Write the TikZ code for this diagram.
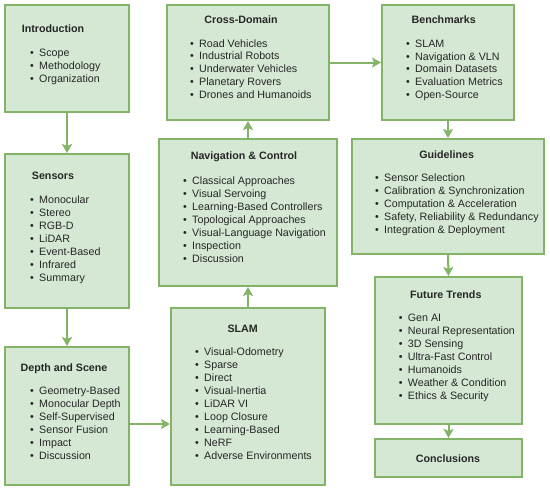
\documentclass[tikz,border=0pt]{standalone}
\usepackage{fontspec}
\setmainfont{Liberation Sans}
\usetikzlibrary{arrows.meta}
\definecolor{boxfill}{HTML}{D5E8D4}
\definecolor{boxline}{HTML}{82B366}
\tikzset{
  box/.style={draw=boxline, fill=boxfill, line width=2pt, inner sep=0pt},
  ttl/.style={font=\fontsize{10.7pt}{12.9pt}\selectfont\bfseries, inner sep=0pt, anchor=base, text=black!85},
  item/.style={font=\fontsize{10.7pt}{12.9pt}\selectfont, inner sep=0pt, anchor=base west, text=black!85},
  conn/.style={draw=boxline, line width=2pt, -{Stealth[length=9pt,width=10pt,inset=2pt]}},
}
\newcommand\mkbox[5]{% name, x1, y1, x2, y2
  \node[box, minimum width={#4-#2}, minimum height={#5-#3}] (#1) at ({(#2+#4)/2},{(#3+#5)/2}) {};}
\newcommand\blist[5]{% name, x text, first center y, spacing, items
  \foreach \t [count=\i from 0] in {#5}
    \node[item] (#1-\i) at (#2,{#3+3.8+\i*#4}) {\makebox[0pt][r]{\textbullet\hspace{5.3pt}}\t};}
\newcommand\btitle[4]{% name, cx, cy, text
  \node[ttl] (#1) at (#2,{#3+3.8}) {#4};}
\begin{document}
\begin{tikzpicture}[x=1pt,y=-1pt]
\useasboundingbox (0,0) rectangle (550,490);
\fill[white] (0,0) rectangle (550,490);
% boxes
\mkbox{intro}{5}{5}{129}{112}
\mkbox{sens}{5}{154}{129}{308}
\mkbox{depth}{5}{347}{129}{485}
\mkbox{cross}{167}{5}{329}{120}
\mkbox{nav}{159}{139}{337}{286}
\mkbox{slam}{171}{308}{325}{485}
\mkbox{bench}{382}{5}{514}{120}
\mkbox{guide}{352}{139}{544}{254}
\mkbox{future}{375}{277}{522}{424}
\mkbox{concl}{375}{439}{522}{477}
% texts
\btitle{introT}{53}{28.7}{Introduction}
\blist{introL}{39}{52.7}{12.8}{Scope,Methodology,Organization}
\btitle{sensT}{53}{175.7}{Sensors}
\blist{sensL}{39}{199.3}{13.0}{Monocular,Stereo,RGB-D,LiDAR,Event-Based,Infrared,Summary}
\btitle{depthT}{64}{367.3}{Depth and Scene}
\blist{depthL}{39}{390.7}{13.0}{Geometry-Based,Monocular Depth,Self-Supervised,Sensor Fusion,Impact,Discussion}
\btitle{crossT}{241}{20}{Cross-Domain}
\blist{crossL}{199}{43.3}{12.75}{Road Vehicles,Industrial Robots,Underwater Vehicles,Planetary Rovers,Drones and Humanoids}
\btitle{benchT}{443.7}{19.3}{Benchmarks}
\blist{benchL}{415}{43.3}{12.9}{SLAM,Navigation \& VLN,Domain Datasets,Evaluation Metrics,Open-Source}
\btitle{navT}{244}{156}{Navigation \& Control}
\blist{navL}{192}{180.3}{13.0}{Classical Approaches,Visual Servoing,Learning-Based Controllers,Topological Approaches,Visual-Language Navigation,Inspection,Discussion}
\btitle{guideT}{446.7}{154.3}{Guidelines}
\blist{guideL}{384}{178}{12.9}{Sensor Selection,Calibration \& Synchronization,Computation \& Acceleration,{Safety, Reliability \& Redundancy},Integration \& Deployment}
\btitle{slamT}{242.7}{328.3}{SLAM}
\blist{slamL}{204}{351.7}{13.0}{Visual-Odometry,Sparse,Direct,Visual-Inertia,LiDAR VI,Loop Closure,Learning-Based,NeRF,Adverse Environments}
\btitle{futureT}{445.8}{295}{Future Trends}
\blist{futureL}{407.7}{318}{13.0}{Gen AI,Neural Representation,3D Sensing,Ultra-Fast Control,Humanoids,Weather \& Condition,Ethics \& Security}
\btitle{conclT}{448}{458.3}{Conclusions}
% connectors
\coordinate (dsy) at (0,424);
\draw[conn] (intro.south) -- (sens.north);
\draw[conn] (sens.south) -- (depth.north);
\draw[conn] (depth.east |- dsy) -- (slam.west |- dsy);
\draw[conn] (slam.north) -- (nav.south);
\draw[conn] (nav.north) -- (cross.south);
\draw[conn] (cross.east) -- (bench.west);
\draw[conn] (bench.south) -- (guide.north);
\draw[conn] (guide.south) -- (future.north);
\draw[conn] (future.south) -- (concl.north);
\end{tikzpicture}
\end{document}
